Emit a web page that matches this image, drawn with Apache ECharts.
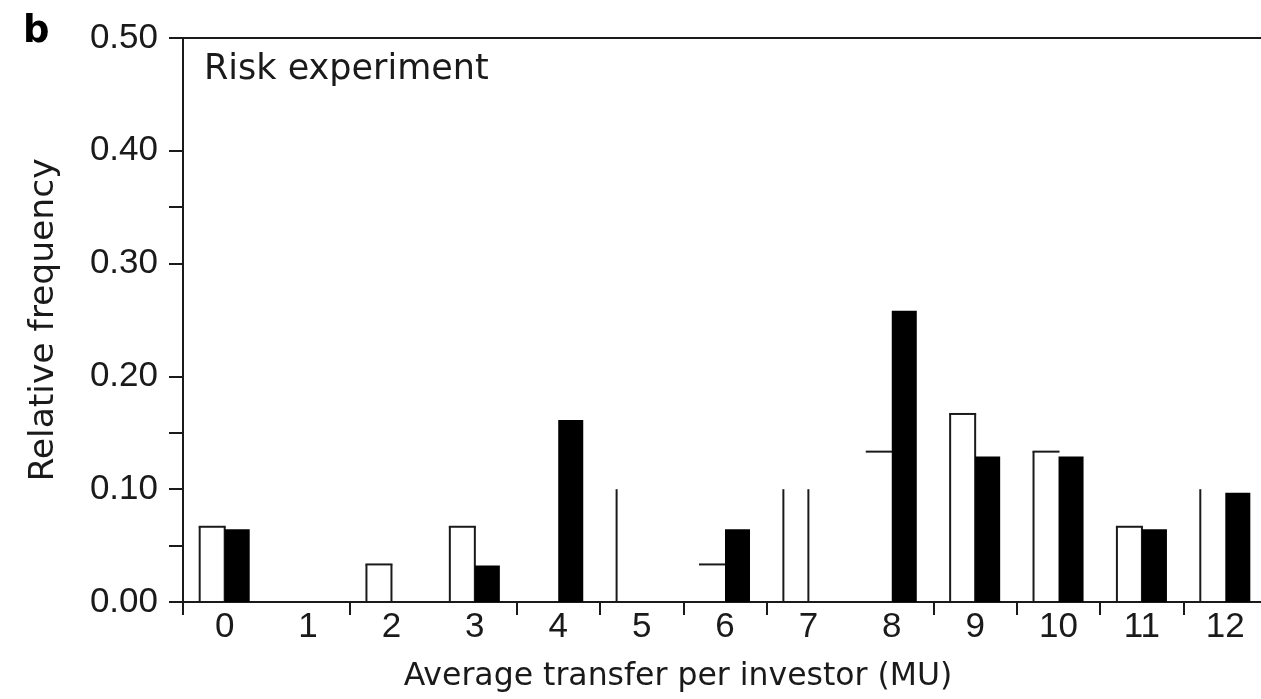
<!DOCTYPE html>
<html>
<head>
<meta charset="utf-8">
<title>Risk experiment</title>
<script src="https://cdn.jsdelivr.net/npm/echarts@6/dist/echarts.min.js"></script>
<style>
  html, body { margin: 0; padding: 0; background: #fff; }
  #chart { width: 1261px; height: 699px; }
</style>
</head>
<body>
<div id="chart"></div>
<script>
// Average transfer per investor (MU), one category per integer value
const categories = ['0', '1', '2', '3', '4', '5', '6', '7', '8', '9', '10', '11', '12'];

// Relative frequencies: open bars (30 investors) and filled bars (31 investors)
const openBars = [0.0667, 0, 0.0333, 0.0667, 0, 0.1000, 0.0333, 0.1000, 0.1333, 0.1667, 0.1333, 0.0667, 0.1000];
const filledBars = [0.0645, 0, 0, 0.0323, 0.1613, 0, 0.0645, 0, 0.2581, 0.1290, 0.1290, 0.0645, 0.0968];

// Value-axis ticks
const yTickValues = [0, 0.05, 0.10, 0.15, 0.20, 0.30, 0.35, 0.40, 0.50];
const yLabelValues = [0, 0.10, 0.20, 0.30, 0.40, 0.50];

const FONT = 'DejaVu Sans';
const NUM_FONT = 'Liberation Sans';
const INK = '#1a1a1a';
const BAR_FRACTION = 0.3;

// Which outline strokes of each open bar are drawn (l = left, t = top, r = right)
const openOutline = ['ltr', '', 'ltr', 'ltr', '', 'l', 't', 'lr', 't', 'ltr', 'lt', 'ltr', 'l'];

function openBarItem(params, api) {
  const v = api.value(1);
  if (!v) return null;
  const idx = api.value(0);
  const top = api.coord([idx, v]);
  const base = api.coord([idx, 0]);
  const w = api.size([1, 0])[0] * BAR_FRACTION;
  const x0 = top[0] - w;
  const x1 = top[0];
  const edges = openOutline[params.dataIndex];
  const style = { stroke: INK, lineWidth: 2, fill: null };
  const children = [];
  if (edges.indexOf('l') >= 0) {
    children.push({ type: 'line', shape: { x1: x0, y1: base[1], x2: x0, y2: top[1] }, style: style });
  }
  if (edges.indexOf('t') >= 0) {
    children.push({ type: 'line', shape: { x1: x0 - 1, y1: top[1], x2: x1 + 1, y2: top[1] }, style: style });
  }
  if (edges.indexOf('r') >= 0) {
    children.push({ type: 'line', shape: { x1: x1, y1: base[1], x2: x1, y2: top[1] }, style: style });
  }
  return { type: 'group', children: children };
}

function filledBarItem(params, api) {
  const v = api.value(1);
  if (!v) return null;
  const idx = api.value(0);
  const top = api.coord([idx, v]);
  const base = api.coord([idx, 0]);
  const w = api.size([1, 0])[0] * BAR_FRACTION;
  return {
    type: 'rect',
    shape: { x: top[0], y: top[1], width: w, height: base[1] - top[1] },
    style: { fill: '#000' }
  };
}

const chart = echarts.init(document.getElementById('chart'), null, { renderer: 'canvas' });

const hiddenXTicks = [1, 3, 8];

chart.setOption({
  animation: false,
  backgroundColor: '#fff',
  textStyle: { fontFamily: FONT },
  grid: { left: 183, top: 38, right: -6, bottom: 97, containLabel: false, outerBoundsMode: 'none' },
  xAxis: [
    {
      type: 'category',
      data: categories,
      position: 'bottom',
      boundaryGap: true,
      axisLine: { show: true, lineStyle: { color: INK, width: 2 } },
      axisTick: {
        show: true,
        length: 13,
        lineStyle: { color: INK, width: 2 },
        interval: function (index) { return hiddenXTicks.indexOf(index) < 0; }
      },
      axisLabel: { color: INK, fontSize: 35, fontFamily: NUM_FONT, margin: 8 },
      splitLine: { show: false }
    },
    {
      type: 'category',
      data: categories,
      position: 'top',
      axisLine: { show: true, lineStyle: { color: INK, width: 2 } },
      axisTick: { show: false },
      axisLabel: { show: false },
      splitLine: { show: false }
    }
  ],
  yAxis: {
    type: 'value',
    min: 0,
    max: 0.5,
    interval: 0.1,
    axisLine: { show: true, lineStyle: { color: INK, width: 2 } },
    axisTick: {
      show: true,
      length: 14,
      lineStyle: { color: INK, width: 2 },
      customValues: yTickValues
    },
    axisLabel: {
      color: INK,
      fontSize: 35,
      fontFamily: NUM_FONT,
      margin: 25,
      customValues: yLabelValues,
      formatter: function (v) { return v.toFixed(2); }
    },
    splitLine: { show: false }
  },
  graphic: [
    {
      type: 'text', x: 23, y: 32,
      style: { text: 'b', font: 'bold 37px ' + FONT, fill: '#000', textVerticalAlign: 'middle' }
    },
    {
      type: 'text', x: 204, y: 70,
      style: { text: 'Risk experiment', font: '35px ' + FONT, fill: INK, textVerticalAlign: 'middle' }
    },
    {
      type: 'text', x: 44, y: 320, rotation: Math.PI / 2,
      style: { text: 'Relative frequency', font: '34.5px ' + FONT, fill: INK, textAlign: 'center', textVerticalAlign: 'middle' }
    },
    {
      type: 'text', x: 678, y: 677,
      style: { text: 'Average transfer per investor (MU)', font: '31.5px ' + FONT, fill: INK, textAlign: 'center', textVerticalAlign: 'middle' }
    }
  ],
  series: [
    {
      name: 'open',
      type: 'custom',
      renderItem: openBarItem,
      encode: { x: 0, y: 1 },
      data: categories.map(function (c, i) { return [i, openBars[i]]; }),
      z: 3
    },
    {
      name: 'filled',
      type: 'custom',
      renderItem: filledBarItem,
      encode: { x: 0, y: 1 },
      data: categories.map(function (c, i) { return [i, filledBars[i]]; }),
      z: 4
    }
  ]
});
</script>
</body>
</html>
